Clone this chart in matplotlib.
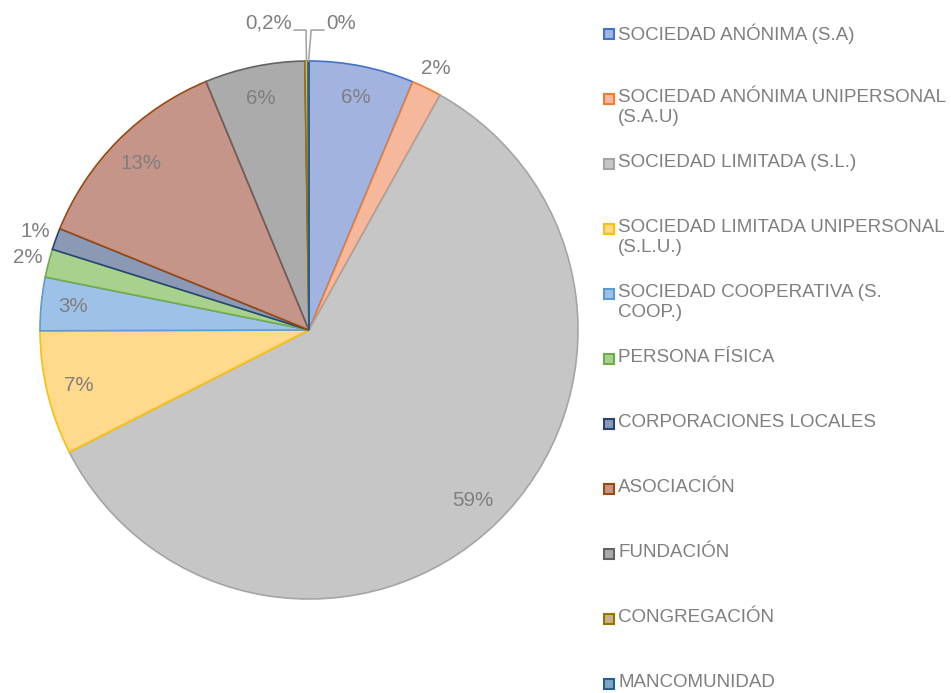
import matplotlib
matplotlib.use('Agg')
import matplotlib.pyplot as plt
from matplotlib.patches import Rectangle
import numpy as np

plt.rcParams['font.family'] = ['Liberation Sans', 'DejaVu Sans']

# datos (porcentaje por forma juridica)
categorias = ['SOCIEDAD ANÓNIMA (S.A)', 'SOCIEDAD ANÓNIMA UNIPERSONAL\n(S.A.U)',
              'SOCIEDAD LIMITADA (S.L.)', 'SOCIEDAD LIMITADA UNIPERSONAL\n(S.L.U.)',
              'SOCIEDAD COOPERATIVA (S.\nCOOP.)', 'PERSONA FÍSICA', 'CORPORACIONES LOCALES',
              'ASOCIACIÓN', 'FUNDACIÓN', 'CONGREGACIÓN', 'MANCOMUNIDAD']
valores = [6.3, 1.8, 59.4, 7.45, 3.2, 1.7, 1.3, 12.6, 6.0, 0.2, 0.05]

bordes = ['#4472C4', '#ED7D31', '#A5A5A5', '#FFC000', '#5B9BD5', '#70AD47',
          '#264478', '#9E480E', '#636363', '#997300', '#255E91']
rellenos = ['#A3B3DF', '#F5B89C', '#C6C6C6', '#FFD98C', '#9EC1E7', '#A9D18E',
            '#8C99B4', '#C5958A', '#ABABAB', '#C8B386', '#7FA4C4']
gris = '#7F7F7F'


def etiqueta(v):
    if v >= 0.5:
        return '%d%%' % round(v)
    if round(v, 1) > 0.1:
        return ('%.1f%%' % v).replace('.', ',')
    return '0%'


W, H = 951, 693
fig = plt.figure(figsize=(W / 100, H / 100), dpi=100)
cx, cy, R = 309, 330, 269
ax = fig.add_axes([(cx - R) / W, (H - cy - R) / H, 2 * R / W, 2 * R / H])

wedges, _ = ax.pie(valores, startangle=90, counterclock=False, radius=1,
                   colors=rellenos, wedgeprops=dict(linewidth=1.2))
for w, c in zip(wedges, bordes):
    w.set_edgecolor(c)
ax.set_xlim(-1, 1)
ax.set_ylim(-1, 1)
ax.set_aspect('equal')
ax.axis('off')

fs = 14.8
for i, w in enumerate(wedges):
    v = valores[i]
    ang = np.deg2rad((w.theta1 + w.theta2) / 2)
    if v >= 2.5:
        r = 0.88
        ax.text(r * np.cos(ang), r * np.sin(ang), etiqueta(v), ha='center', va='center',
                color=gris, fontsize=fs)
    elif v >= 0.5:
        r = 1.08
        ax.text(r * np.cos(ang), r * np.sin(ang), etiqueta(v), ha='center', va='center',
                color=gris, fontsize=fs)
    else:
        # lineas guia para porciones muy pequenas
        lado = -1 if i == 9 else 1
        xe, ye = np.cos(ang), np.sin(ang)
        xm = -0.011 if lado < 0 else 0.008
        yl = 1.115
        ax.plot([xe, xm, lado * 0.055], [ye, yl, yl], color='#A6A6A6', lw=1.2,
                clip_on=False)
        ax.text(lado * 0.065, 1.14, etiqueta(v), ha='right' if lado < 0 else 'left',
                va='center', color=gris, fontsize=fs)

# leyenda manual
y0, paso = 34, 65
for i, (cat, b, f) in enumerate(zip(categorias, bordes, rellenos)):
    yc = y0 + i * paso
    fig.patches.append(Rectangle((604 / W, (H - yc - 5) / H), 10 / W, 10 / H,
                                 transform=fig.transFigure, facecolor=f,
                                 edgecolor=b, linewidth=1.5))
    fig.text(618 / W, (H - yc + 10) / H, cat, ha='left', va='top', color=gris,
             fontsize=13.5, linespacing=1.25)

fig.savefig('out.png', dpi=100)
